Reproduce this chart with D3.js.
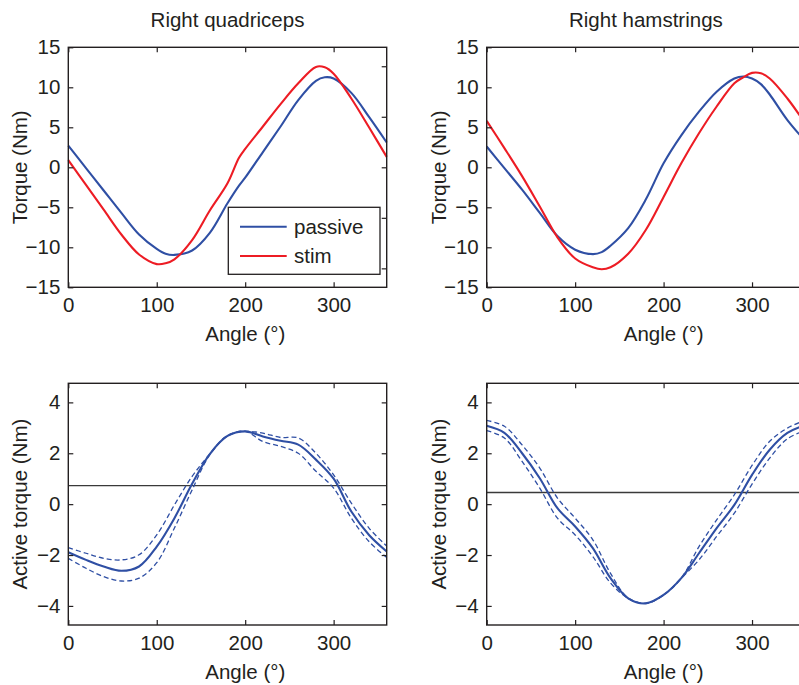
<!DOCTYPE html>
<html>
<head>
<meta charset="utf-8">
<script src="https://cdn.jsdelivr.net/npm/d3@7"></script>
<style>
  body { margin: 0; background: #fff; }
  svg text { font-family: "Liberation Sans", Arial, Helvetica, sans-serif; fill: #231f20; }
</style>
</head>
<body>
<div id="chart"></div>
<script>
/////////////////////////////////////////////////////////
// data
/////////////////////////////////////////////////////////
var quadAngles   = [0, 20, 40, 60, 80, 100, 110, 120, 140, 160, 180, 193, 200, 220, 240, 260, 280, 290, 300, 320, 340, 360];
var quadPassive  = [2.7, -0.1, -2.9, -5.7, -8.4, -10.2, -10.8, -10.95, -10.4, -8.2, -4.5, -2.3, -1.3, 1.9, 5.1, 8.4, 10.8, 11.25, 11.1, 9.3, 6.3, 3.1];
var quadStim     = [0.9, -2.2, -5.3, -8.4, -10.9, -12.1, -12.0, -11.5, -9.1, -5.4, -2.0, 1.2, 2.3, 5.1, 7.9, 10.5, 12.55, 12.5, 11.7, 8.6, 5.0, 1.3];

var hamAngles    = [0, 20, 40, 60, 80, 100, 120, 130, 140, 160, 180, 200, 220, 240, 260, 280, 290, 300, 310, 320, 340, 360];
var hamPassive   = [2.6, -0.1, -2.8, -5.7, -8.6, -10.3, -10.85, -10.6, -9.8, -7.6, -4.0, 0.5, 4.0, 6.95, 9.45, 11.1, 11.35, 11.1, 10.4, 9.1, 5.9, 3.3];
var hamStim      = [5.8, 2.4, -1.1, -4.9, -8.75, -11.4, -12.5, -12.75, -12.5, -10.8, -7.8, -3.7, 0.5, 4.25, 7.6, 10.5, 11.25, 11.8, 11.75, 11.1, 8.6, 5.5];

var activeAngles = [0, 20, 40, 60, 80, 100, 120, 140, 160, 180, 200, 220, 240, 260, 280, 300, 320, 340, 360];
var quadActive   = [-1.89, -2.19, -2.45, -2.62, -2.45, -1.67, -0.55, 0.8, 1.97, 2.68, 2.86, 2.66, 2.49, 2.34, 1.75, 1.0, -0.29, -1.21, -1.86];
var quadUpper    = [-1.71, -1.93, -2.13, -2.19, -1.99, -1.21, -0.03, 1.09, 1.97, 2.7, 2.86, 2.79, 2.62, 2.6, 2.0, 1.15, 0.04, -0.94, -1.65];
var quadLower    = [-2.13, -2.52, -2.85, -3.02, -2.91, -2.3, -0.94, 0.56, 1.95, 2.68, 2.86, 2.46, 2.27, 2.0, 1.29, 0.63, -0.55, -1.47, -2.1];
var quadLevel    = 0.73;

var hamActive    = [3.08, 2.8, 2.0, 1.02, -0.16, -0.88, -1.73, -2.91, -3.7, -3.9, -3.57, -2.91, -1.93, -0.94, -0.03, 1.15, 2.14, 2.8, 3.1];
var hamUpper     = [3.29, 3.06, 2.33, 1.42, 0.24, -0.55, -1.4, -2.72, -3.7, -3.9, -3.57, -2.91, -1.67, -0.62, 0.37, 1.52, 2.47, 2.99, 3.29];
var hamLower     = [2.89, 2.6, 1.68, 0.63, -0.55, -1.21, -2.06, -3.1, -3.7, -3.9, -3.57, -2.91, -2.19, -1.27, -0.35, 0.79, 1.81, 2.57, 2.89];
var hamLevel     = 0.46;

var xTicks       = [0, 100, 200, 300];
var torqueTicks  = [-15, -10, -5, 0, 5, 10, 15];
var activeTicks  = [-4, -2, 0, 2, 4];
var legendLabels = ["passive", "stim"];

var BLUE = "#2f4fa4", RED = "#ed1c24", INK = "#231f20";
var FONT = 20.5;

/////////////////////////////////////////////////////////
// layout
/////////////////////////////////////////////////////////
var cols = [[68.3, 386.7], [486.7, 805.1]];
var rows = [[287.3, 47.3], [625, 383.3]];

var svg = d3.select("#chart").append("svg")
    .attr("width", 799)
    .attr("height", 685);

function zip (xs, ys) {
  return xs.map(function (a, i) { return {a: a, v: ys[i]}; });
}

/////////////////////////////////////////////////////////
// one panel
/////////////////////////////////////////////////////////
function drawPanel (p) {

  var x = d3.scaleLinear().domain([0, 360]).range(cols[p.col]);
  var y = d3.scaleLinear().domain(p.yDomain).range(rows[p.row]);

  var g = svg.append("g");

  var left = cols[p.col][0], right = cols[p.col][1];
  var bottom = rows[p.row][0], top = rows[p.row][1];

  // curves
  var line = d3.line()
      .x(function (d) { return x(d.a); })
      .y(function (d) { return y(d.v); })
      .curve(d3.curveCatmullRom.alpha(0.5));

  if (p.level !== undefined) {
    g.append("line")
      .attr("x1", left).attr("x2", right)
      .attr("y1", y(p.level)).attr("y2", y(p.level))
      .attr("stroke", "#3a3a3a").attr("stroke-width", 1.4);
  }

  p.series.forEach(function (s) {
    g.append("path")
      .datum(zip(s.angles, s.values))
      .attr("fill", "none")
      .attr("stroke", s.color)
      .attr("stroke-width", s.dash ? 1.3 : 2.1)
      .attr("stroke-dasharray", s.dash ? "5,3" : null)
      .attr("d", line);
  });

  // axes, ticks inward like matlab
  var bottomAxis = g.append("g")
      .attr("transform", "translate(0," + bottom + ")")
      .call(d3.axisBottom(x).tickValues(xTicks).tickSizeInner(-5).tickSizeOuter(0).tickPadding(10));

  var topAxis = g.append("g")
      .attr("transform", "translate(0," + top + ")")
      .call(d3.axisTop(x).tickValues(xTicks).tickSizeInner(-5).tickSizeOuter(0).tickFormat(""));

  var leftAxis = g.append("g")
      .attr("transform", "translate(" + left + ",0)")
      .call(d3.axisLeft(y).tickValues(p.yTicks).tickSizeInner(-5).tickSizeOuter(0).tickPadding(8));

  var yR = d3.scaleLinear().domain(p.rightDomain || p.yDomain).range(rows[p.row]);
  var rightAxis = g.append("g")
      .attr("transform", "translate(" + right + ",0)")
      .call(d3.axisRight(yR).tickValues(p.rightTicks || p.yTicks).tickSizeInner(-5).tickSizeOuter(0).tickFormat(""));

  [bottomAxis, topAxis, leftAxis, rightAxis].forEach(function (ax) {
    ax.select(".domain").remove();
    ax.selectAll(".tick line").attr("stroke", INK).attr("stroke-width", 1.2);
    ax.selectAll("text").attr("font-size", FONT).attr("fill", INK);
  });

  // frame
  g.append("rect")
    .attr("x", left).attr("y", top)
    .attr("width", right - left).attr("height", bottom - top)
    .attr("fill", "none")
    .attr("stroke", INK)
    .attr("stroke-width", 1.4);

  // labels
  if (p.title) {
    g.append("text")
      .attr("x", (left + right) / 2).attr("y", 27)
      .attr("text-anchor", "middle")
      .attr("font-size", FONT)
      .text(p.title);
  }

  g.append("text")
    .attr("x", left + 177).attr("y", bottom + 54)
    .attr("text-anchor", "middle")
    .attr("font-size", FONT)
    .text("Angle (\u00b0)");

  g.append("text")
    .attr("transform", "translate(" + (left - 41) + "," + ((top + bottom) / 2) + ") rotate(-90)")
    .attr("text-anchor", "middle")
    .attr("font-size", FONT)
    .text(p.yLabel);

  // legend
  if (p.legend) {
    var lg = g.append("g");
    lg.append("rect")
      .attr("x", 228.3).attr("y", 207.3)
      .attr("width", 151.7).attr("height", 67)
      .attr("fill", "#fff")
      .attr("stroke", INK)
      .attr("stroke-width", 1.3);
    legendLabels.forEach(function (name, i) {
      var ly = 226.7 + i * 29.3;
      lg.append("line")
        .attr("x1", 240).attr("x2", 286.7)
        .attr("y1", ly).attr("y2", ly)
        .attr("stroke", p.series[i].color)
        .attr("stroke-width", 2.1);
      lg.append("text")
        .attr("x", 294).attr("y", ly)
        .attr("dy", "0.35em")
        .attr("font-size", FONT)
        .text(name);
    });
  }
}

/////////////////////////////////////////////////////////
// the four panels
/////////////////////////////////////////////////////////
drawPanel({
  col: 0, row: 0, title: "Right quadriceps", yLabel: "Torque (Nm)",
  yDomain: [-15, 15], yTicks: torqueTicks,
  rightDomain: [-23.75, 23.75], rightTicks: [-20, -10, 0, 10, 20],
  legend: true,
  series: [
    {angles: quadAngles, values: quadPassive, color: BLUE},
    {angles: quadAngles, values: quadStim, color: RED}
  ]
});

drawPanel({
  col: 1, row: 0, title: "Right hamstrings", yLabel: "Torque (Nm)",
  yDomain: [-15, 15], yTicks: torqueTicks,
  series: [
    {angles: hamAngles, values: hamPassive, color: BLUE},
    {angles: hamAngles, values: hamStim, color: RED}
  ]
});

drawPanel({
  col: 0, row: 1, yLabel: "Active torque (Nm)",
  yDomain: [-4.75, 4.75], yTicks: activeTicks,
  level: quadLevel,
  series: [
    {angles: activeAngles, values: quadUpper, color: BLUE, dash: true},
    {angles: activeAngles, values: quadLower, color: BLUE, dash: true},
    {angles: activeAngles, values: quadActive, color: BLUE}
  ]
});

drawPanel({
  col: 1, row: 1, yLabel: "Active torque (Nm)",
  yDomain: [-4.75, 4.75], yTicks: activeTicks,
  level: hamLevel,
  series: [
    {angles: activeAngles, values: hamUpper, color: BLUE, dash: true},
    {angles: activeAngles, values: hamLower, color: BLUE, dash: true},
    {angles: activeAngles, values: hamActive, color: BLUE}
  ]
});
</script>
</body>
</html>
